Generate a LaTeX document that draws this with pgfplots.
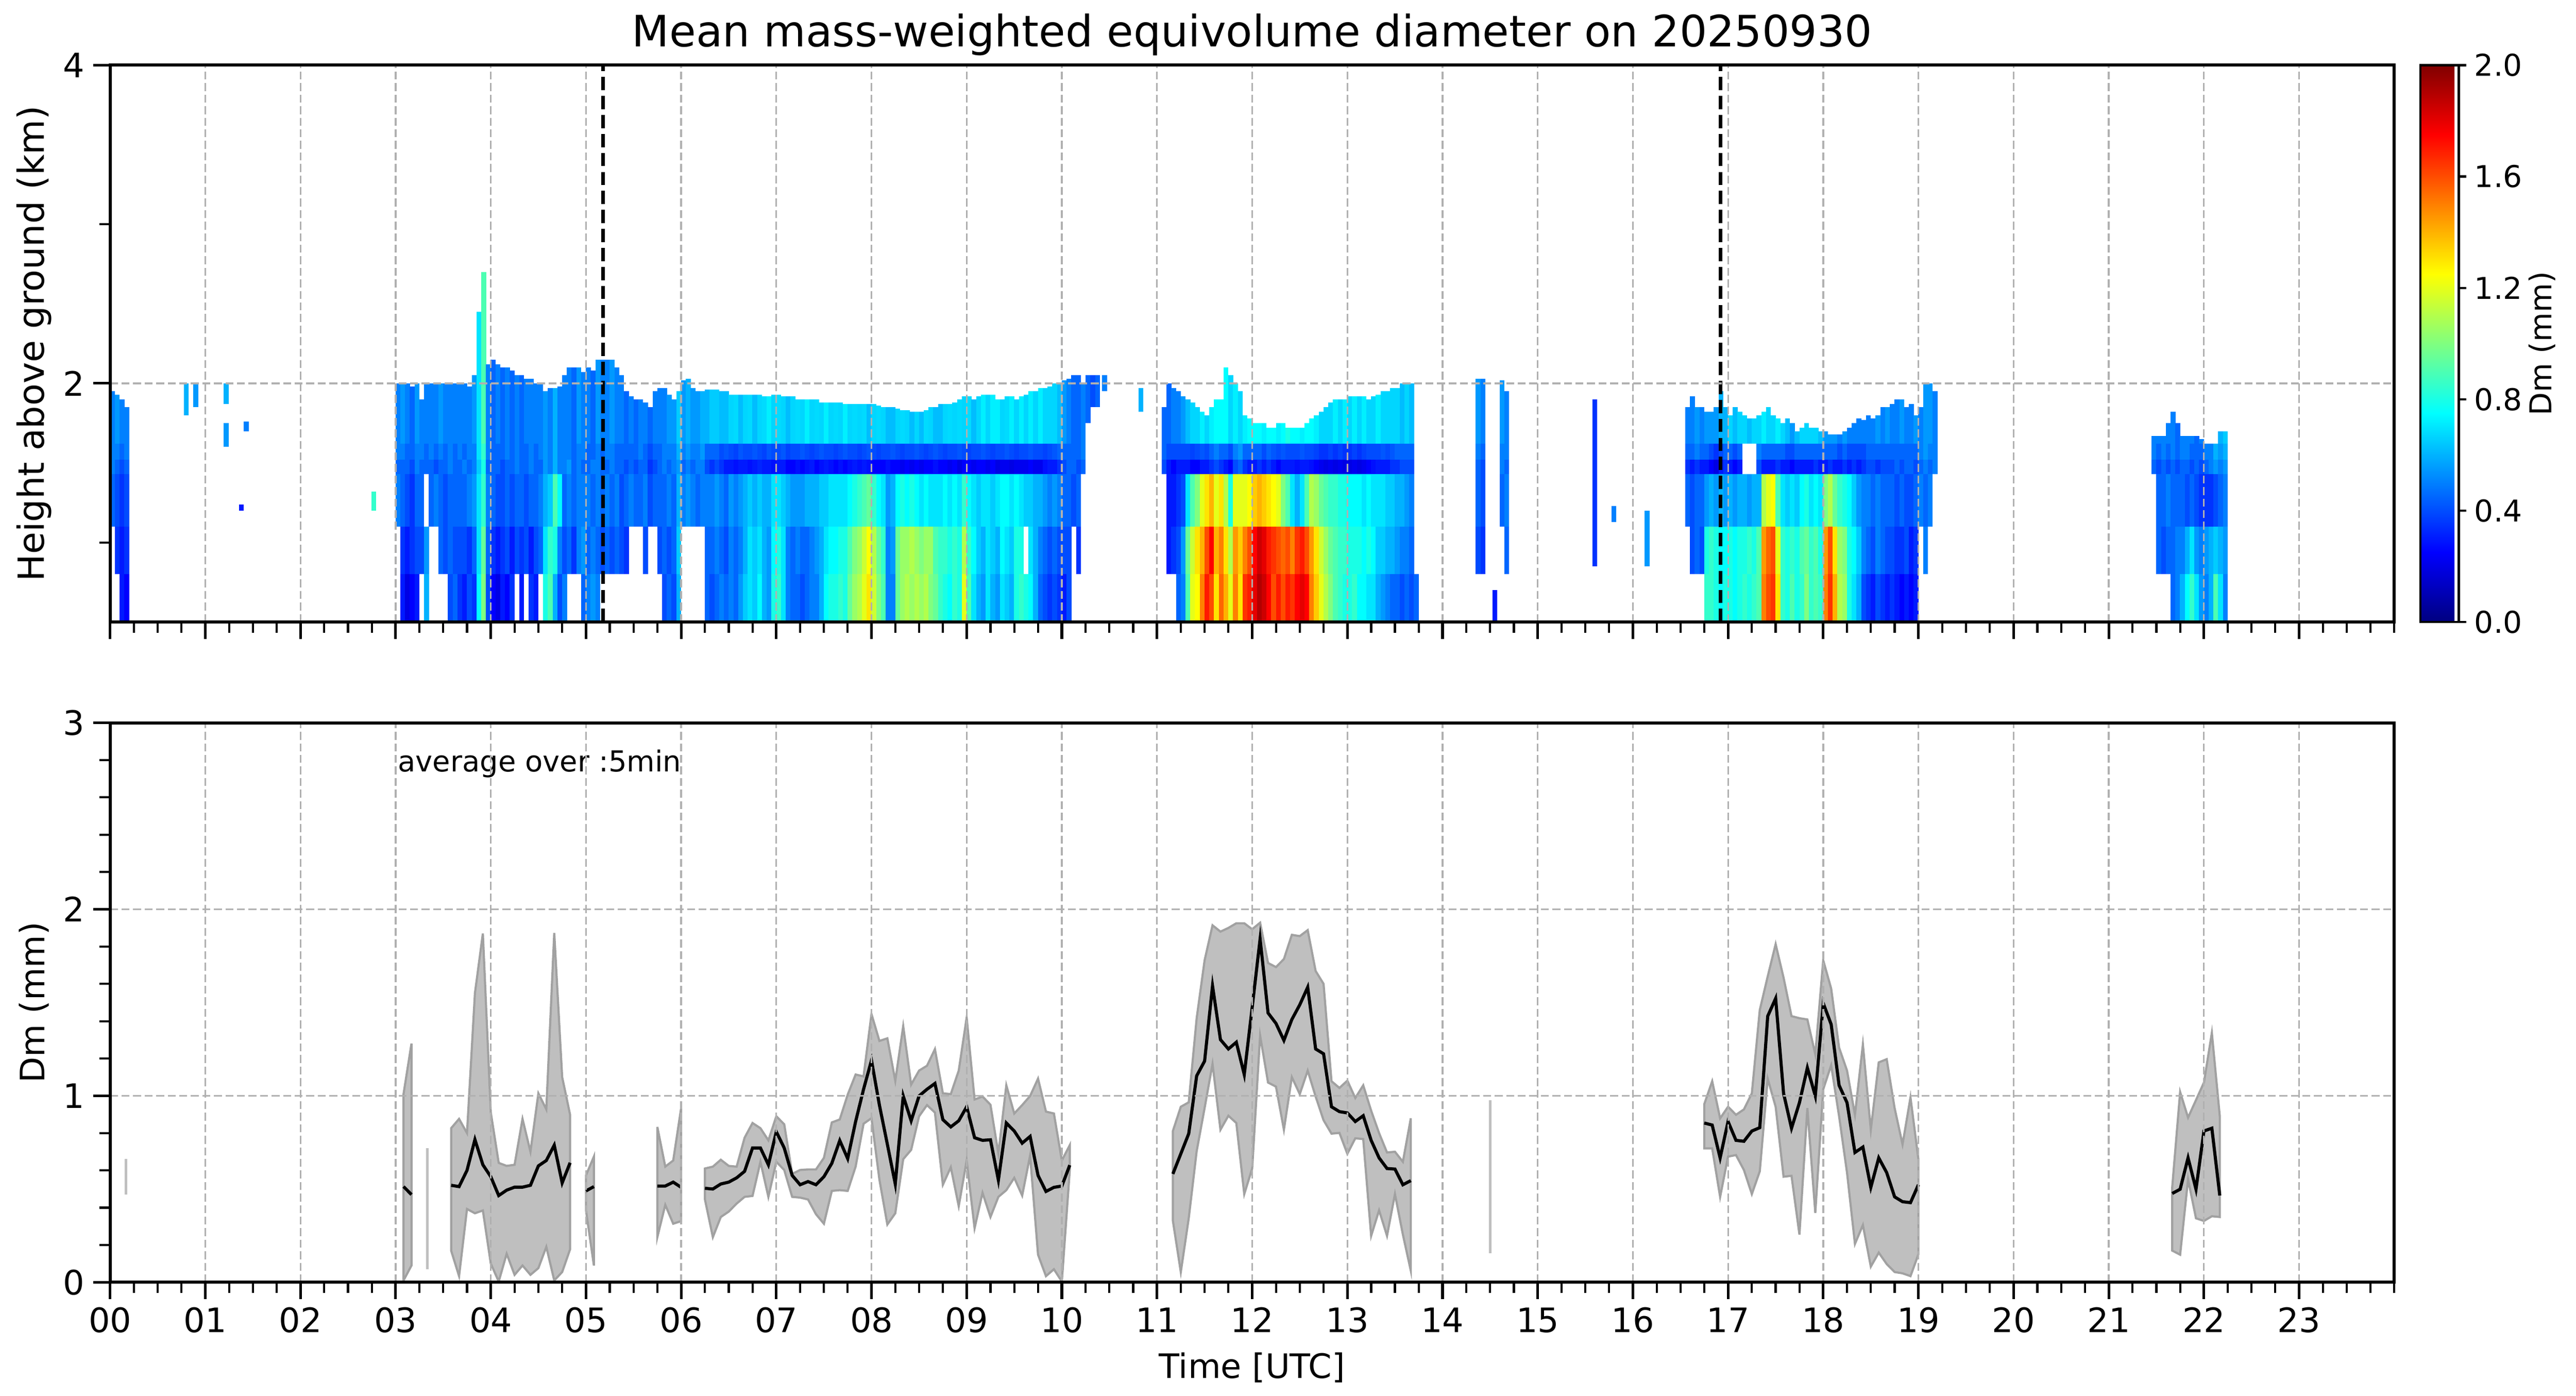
\documentclass[border=0pt]{standalone}
\usepackage{fontspec}
\setmainfont{DejaVu Sans}
\usepackage{pgfplots}
\pgfplotsset{compat=1.18}
\usepackage{pgfplotstable}
\pgfkeys{/pgf/number format/assume math mode=true}

\definecolor{gridgray}{rgb}{0.69,0.69,0.69}
\definecolor{bandfill}{rgb}{0.75,0.75,0.75}
\definecolor{bandedge}{rgb}{0.63,0.63,0.63}

% heatmap columns: x, colour of layers 0.5-0.8, 0.8-1.1, 1.1-1.43, 1.43-1.52, 1.52-1.62, 1.62-top; top height (-1 = empty)
\pgfplotstableread{
x c1 c2 c3 c4 cb c5 t
0.025 -1 -1 0.45 0.5 0.5 0.5 1.95
0.075 -1 0.35 0.4 0.45 0.5 0.55 1.93
0.125 0.3 0.3 0.35 0.4 0.45 0.5 1.9
0.175 0.25 0.35 0.4 0.45 0.5 0.5 1.85
3.025 -1 -1 0.5 0.45 0.5 0.5 2.0
3.075 0.3 0.35 0.45 0.45 0.5 0.55 2.0
3.125 0.2 0.3 0.4 0.45 0.45 0.5 2.0
3.175 0.25 0.35 0.35 0.4 0.45 0.45 1.98
3.225 0.3 0.4 0.45 0.5 0.5 0.55 2.0
3.275 -1 0.4 0.45 0.45 0.5 0.5 1.9
3.325 0.6 0.55 -1 0.45 0.45 0.5 2.0
3.375 -1 -1 0.45 0.45 0.5 0.5 2.0
3.425 -1 -1 0.5 0.4 0.45 0.5 2.0
3.475 -1 0.45 0.45 0.45 0.5 0.55 2.0
3.525 -1 0.4 0.4 0.45 0.45 0.5 2.0
3.575 0.4 0.45 0.45 0.5 0.5 0.5 2.0
3.625 0.45 0.4 0.45 0.45 0.45 0.5 2.0
3.675 0.35 0.4 0.45 0.45 0.5 0.5 2.0
3.725 0.3 0.4 0.45 0.5 0.45 0.5 2.0
3.775 0.4 0.35 0.5 0.45 0.5 0.5 1.98
3.825 0.35 0.45 0.55 0.5 0.5 0.55 2.05
3.875 0.75 0.7 0.7 0.65 0.7 0.7 2.45
3.925 1.0 0.95 0.85 0.8 0.85 0.9 2.7
3.975 0.4 0.45 0.5 0.45 0.5 0.5 2.12
4.025 0.25 0.35 0.45 0.45 0.45 0.45 2.15
4.075 0.2 0.3 0.4 0.45 0.45 0.5 2.12
4.125 0.3 0.35 0.4 0.4 0.45 0.45 2.1
4.175 0.25 0.4 0.45 0.45 0.5 0.5 2.1
4.225 0.35 0.3 0.4 0.45 0.45 0.45 2.08
4.275 -1 0.4 0.45 0.5 0.5 0.5 2.05
4.325 0.3 0.35 0.45 0.45 0.45 0.45 2.05
4.375 -1 0.4 0.4 0.45 0.45 0.5 2.03
4.425 0.35 0.3 0.45 0.5 0.5 0.5 2.03
4.475 0.3 0.4 0.45 0.45 0.45 0.5 2.0
4.525 -1 0.45 0.5 0.45 0.5 0.5 2.0
4.575 0.8 0.7 0.6 0.55 0.55 0.55 1.95
4.625 0.9 0.85 0.65 0.5 0.5 0.5 1.97
4.675 0.6 0.8 0.9 0.6 0.6 0.6 1.97
4.725 0.4 0.5 0.75 0.5 0.5 0.5 1.98
4.775 0.5 0.4 0.45 0.5 0.5 0.5 2.05
4.825 -1 0.45 0.5 0.55 0.5 0.5 2.1
4.875 -1 0.35 0.45 0.45 0.45 0.45 2.1
4.925 -1 0.5 0.5 0.5 0.5 0.55 2.1
4.975 0.45 0.55 0.5 0.45 0.5 0.5 2.07
5.025 0.5 0.45 0.5 0.45 0.45 0.5 2.1
5.075 0.55 0.5 0.45 0.5 0.45 0.45 2.08
5.125 0.5 0.45 0.5 0.5 0.5 0.55 2.15
5.175 -1 0.4 0.45 0.45 0.45 0.5 2.15
5.225 -1 0.45 0.5 0.45 0.5 0.5 2.15
5.275 -1 0.4 0.45 0.5 0.5 0.55 2.15
5.325 -1 0.45 0.5 0.45 0.45 0.5 2.1
5.375 -1 0.4 0.4 0.45 0.45 0.5 2.05
5.425 -1 0.35 0.45 0.4 0.45 0.45 1.95
5.475 -1 -1 0.5 0.45 0.45 0.5 1.92
5.525 -1 -1 0.45 0.4 0.45 0.45 1.9
5.575 -1 -1 0.45 0.45 0.5 0.5 1.9
5.625 -1 0.4 0.5 0.45 0.45 0.5 1.88
5.675 -1 -1 0.4 0.35 0.4 0.45 1.85
5.725 -1 -1 0.45 0.4 0.45 0.5 1.95
5.775 -1 0.4 0.45 0.45 0.45 0.5 1.97
5.825 0.4 0.45 0.45 0.5 0.5 0.5 1.97
5.875 0.45 0.4 0.5 0.45 0.5 0.55 1.93
5.925 0.4 0.45 0.45 0.5 0.5 0.55 1.9
5.975 0.6 0.65 0.6 0.55 0.6 0.65 1.95
6.025 -1 -1 0.5 0.45 0.5 0.55 2.02
6.075 -1 -1 0.55 0.5 0.55 0.6 2.03
6.125 -1 -1 0.5 0.45 0.5 0.55 1.97
6.175 -1 -1 0.45 0.5 0.5 0.55 1.95
6.225 -1 -1 0.5 0.5 0.55 0.6 1.95
6.275 0.45 0.45 0.5 0.4 0.45 0.6 1.96
6.325 0.4 0.45 0.5 0.35 0.45 0.65 1.96
6.375 0.45 0.5 0.55 0.4 0.45 0.65 1.96
6.425 0.5 0.45 0.5 0.35 0.4 0.62 1.95
6.475 0.45 0.4 0.45 0.3 0.42 0.62 1.95
6.525 0.5 0.5 0.55 0.3 0.4 0.67 1.93
6.575 0.45 0.45 0.5 0.28 0.38 0.68 1.93
6.625 0.55 0.5 0.55 0.3 0.42 0.62 1.93
6.675 0.65 0.6 0.6 0.3 0.4 0.67 1.93
6.725 0.7 0.7 0.65 0.28 0.4 0.68 1.93
6.775 0.65 0.65 0.6 0.3 0.42 0.62 1.93
6.825 0.75 0.7 0.65 0.32 0.4 0.67 1.93
6.875 0.6 0.6 0.6 0.3 0.38 0.68 1.92
6.925 0.55 0.55 0.6 0.3 0.42 0.72 1.92
6.975 0.8 0.75 0.7 0.28 0.4 0.67 1.93
7.025 0.85 0.8 0.7 0.3 0.4 0.68 1.93
7.075 0.7 0.7 0.65 0.3 0.42 0.67 1.92
7.125 0.5 0.5 0.6 0.25 0.38 0.62 1.92
7.175 0.45 0.45 0.55 0.25 0.4 0.67 1.92
7.225 0.45 0.5 0.55 0.28 0.4 0.68 1.9
7.275 0.4 0.45 0.55 0.25 0.42 0.67 1.9
7.325 0.45 0.45 0.6 0.28 0.4 0.72 1.9
7.375 0.5 0.5 0.6 0.3 0.38 0.67 1.9
7.425 0.5 0.55 0.6 0.25 0.4 0.68 1.9
7.475 0.6 0.6 0.65 0.28 0.42 0.67 1.88
7.525 0.75 0.7 0.65 0.3 0.4 0.72 1.88
7.575 0.8 0.75 0.7 0.28 0.4 0.67 1.88
7.625 0.8 0.75 0.7 0.25 0.38 0.68 1.88
7.675 0.85 0.8 0.7 0.28 0.4 0.67 1.88
7.725 0.8 0.8 0.7 0.25 0.42 0.72 1.87
7.775 0.95 0.9 0.75 0.28 0.4 0.67 1.87
7.825 1.05 1.0 0.8 0.3 0.4 0.68 1.87
7.875 1.1 1.05 0.85 0.28 0.38 0.67 1.87
7.925 1.2 1.15 0.9 0.3 0.4 0.68 1.87
7.975 1.3 1.25 0.95 0.28 0.42 0.62 1.87
8.025 1.15 1.1 0.85 0.25 0.4 0.67 1.87
8.075 1.0 0.95 0.75 0.25 0.38 0.68 1.86
8.125 0.9 0.85 0.7 0.25 0.4 0.67 1.85
8.175 0.5 0.5 0.55 0.28 0.4 0.62 1.85
8.225 0.5 0.55 0.6 0.25 0.42 0.62 1.85
8.275 0.95 0.95 0.75 0.25 0.4 0.67 1.84
8.325 1.05 1.05 0.8 0.22 0.38 0.68 1.83
8.375 1.1 1.05 0.75 0.25 0.4 0.67 1.83
8.425 1.05 1.1 0.8 0.22 0.4 0.62 1.82
8.475 1.1 1.05 0.75 0.25 0.42 0.67 1.82
8.525 1.05 1.0 0.7 0.22 0.4 0.62 1.82
8.575 1.1 1.05 0.75 0.25 0.38 0.68 1.83
8.625 1.0 1.05 0.7 0.25 0.4 0.67 1.85
8.675 0.95 0.9 0.7 0.28 0.42 0.62 1.85
8.725 0.85 0.85 0.7 0.25 0.4 0.62 1.87
8.775 0.8 0.85 0.75 0.25 0.38 0.67 1.87
8.825 0.75 0.8 0.7 0.22 0.4 0.68 1.87
8.875 0.85 0.85 0.75 0.25 0.4 0.67 1.88
8.925 0.8 0.8 0.7 0.2 0.42 0.68 1.9
8.975 1.2 1.1 0.85 0.25 0.4 0.67 1.92
9.025 0.9 0.85 0.75 0.25 0.38 0.68 1.92
9.075 0.7 0.75 0.7 0.22 0.4 0.62 1.9
9.125 0.6 0.65 0.65 0.25 0.4 0.67 1.92
9.175 0.55 0.6 0.7 0.25 0.42 0.72 1.93
9.225 0.7 0.7 0.7 0.22 0.4 0.67 1.93
9.275 0.6 0.65 0.65 0.25 0.38 0.72 1.93
9.325 0.55 0.6 0.7 0.2 0.4 0.72 1.9
9.375 0.7 0.75 0.75 0.22 0.4 0.67 1.9
9.425 0.65 0.7 0.75 0.22 0.42 0.68 1.92
9.475 0.6 0.65 0.7 0.2 0.4 0.72 1.92
9.525 0.8 0.8 0.75 0.22 0.38 0.67 1.9
9.575 0.85 0.8 0.7 0.22 0.4 0.72 1.92
9.625 0.8 -1 0.65 0.22 0.4 0.67 1.93
9.675 0.75 0.7 0.65 0.25 0.42 0.72 1.95
9.725 0.6 0.6 0.6 0.22 0.4 0.67 1.95
9.775 0.45 0.5 0.6 0.22 0.4 0.72 1.97
9.825 0.4 0.45 0.55 0.28 0.38 0.67 1.97
9.875 0.35 0.4 0.5 0.3 0.4 0.67 1.98
9.925 0.4 0.45 0.55 0.3 0.42 0.67 2.0
9.975 0.35 0.4 0.5 0.35 0.45 0.62 2.0
10.025 0.3 0.4 0.45 0.4 0.45 0.55 2.02
10.075 0.4 0.4 0.45 0.45 0.45 0.5 2.03
10.125 -1 -1 0.4 0.45 0.45 0.45 2.05
10.175 -1 0.35 0.45 0.4 0.45 0.45 2.05
10.225 -1 -1 -1 0.45 0.5 0.5 2.0
11.075 -1 -1 -1 0.4 0.45 0.45 1.85
11.125 -1 0.3 0.3 0.3 0.4 0.45 2.0
11.175 -1 0.35 0.3 0.25 0.4 0.5 1.97
11.225 0.45 0.4 0.35 0.3 0.4 0.5 1.95
11.275 0.5 0.55 0.4 0.3 0.4 0.55 1.92
11.325 0.9 0.95 0.7 0.3 0.4 0.62 1.9
11.375 1.2 1.15 0.9 0.25 0.38 0.67 1.88
11.425 1.25 1.3 1.0 0.25 0.4 0.67 1.85
11.475 1.5 1.4 1.2 0.3 0.42 0.72 1.82
11.525 1.7 1.6 1.3 0.3 0.4 0.67 1.8
11.575 1.6 1.75 1.4 0.35 0.45 0.72 1.85
11.625 1.3 1.4 1.2 0.4 0.5 0.75 1.9
11.675 1.55 1.5 1.3 0.35 0.45 0.75 1.9
11.725 1.4 1.3 1.1 0.3 0.45 0.75 2.1
11.775 1.2 1.1 0.8 0.25 0.4 0.67 2.05
11.825 1.5 1.45 1.2 0.4 0.5 0.72 2.0
11.875 1.3 1.35 1.2 0.45 0.55 0.67 1.95
11.925 1.65 1.5 1.2 0.35 0.45 0.72 1.8
11.975 1.7 1.6 1.25 0.3 0.45 0.75 1.78
12.025 1.8 1.75 1.35 0.3 0.45 0.75 1.75
12.075 1.9 1.85 1.4 0.35 0.45 0.75 1.75
12.125 1.85 1.8 1.35 0.3 0.4 0.72 1.75
12.175 1.75 1.7 1.3 0.35 0.45 0.75 1.72
12.225 1.6 1.65 1.25 0.3 0.42 0.75 1.72
12.275 1.7 1.6 1.2 0.25 0.4 0.72 1.75
12.325 1.6 1.55 1.0 0.3 0.42 0.75 1.75
12.375 1.7 1.6 0.9 0.3 0.4 0.8 1.72
12.425 1.65 1.5 0.7 0.3 0.4 0.75 1.72
12.475 1.75 1.65 0.6 0.28 0.4 0.75 1.72
12.525 1.8 1.7 0.7 0.3 0.42 0.72 1.72
12.575 1.75 1.6 0.9 0.3 0.4 0.75 1.75
12.625 1.5 1.45 1.1 0.28 0.4 0.75 1.78
12.675 1.35 1.3 1.05 0.25 0.38 0.72 1.8
12.725 1.2 1.15 0.95 0.22 0.35 0.67 1.82
12.775 1.1 1.05 0.9 0.2 0.35 0.67 1.85
12.825 1.0 0.95 0.85 0.22 0.38 0.67 1.88
12.875 0.9 0.9 0.85 0.2 0.35 0.72 1.9
12.925 0.85 0.85 0.8 0.22 0.38 0.67 1.9
12.975 0.8 0.85 0.8 0.2 0.35 0.72 1.9
13.025 0.8 0.8 0.75 0.2 0.35 0.67 1.92
13.075 0.85 0.8 0.75 0.22 0.38 0.72 1.92
13.125 0.75 0.8 0.75 0.2 0.35 0.67 1.92
13.175 0.75 0.75 0.7 0.22 0.38 0.72 1.92
13.225 0.7 0.8 0.75 0.25 0.4 0.67 1.9
13.275 0.7 0.75 0.7 0.28 0.4 0.67 1.92
13.325 0.6 0.65 0.7 0.3 0.4 0.72 1.93
13.375 0.55 0.65 0.7 0.3 0.42 0.67 1.95
13.425 0.5 0.6 0.65 0.3 0.4 0.67 1.95
13.475 0.45 0.6 0.65 0.35 0.42 0.67 1.97
13.525 0.45 0.55 0.6 0.35 0.45 0.67 1.97
13.575 0.4 0.5 0.6 0.4 0.45 0.62 2.0
13.625 0.45 0.5 0.55 0.4 0.45 0.67 2.0
13.675 0.4 0.45 0.5 0.4 0.45 0.62 2.0
14.375 -1 0.4 0.45 0.45 0.5 0.55 2.03
14.425 -1 0.35 0.4 0.4 0.45 0.5 2.03
14.625 -1 -1 0.45 0.5 0.5 0.55 2.02
14.675 -1 0.45 0.5 0.45 0.5 0.5 1.95
16.575 -1 -1 0.45 0.35 0.45 0.5 1.85
16.625 -1 0.4 0.4 0.3 0.45 0.5 1.92
16.675 -1 0.45 0.45 0.35 0.5 0.55 1.85
16.725 -1 0.4 0.45 0.3 0.45 0.5 1.85
16.775 0.85 0.8 0.55 0.3 0.45 0.55 1.82
16.825 0.85 0.85 0.6 0.25 0.4 0.55 1.82
16.875 0.8 0.8 0.55 0.2 0.35 0.55 1.85
16.925 0.75 0.75 0.6 0.3 0.4 0.6 1.95
16.975 0.8 0.75 0.55 0.35 0.45 0.6 1.85
17.025 0.8 0.8 0.6 0.3 0.45 0.67 1.8
17.075 0.75 0.75 0.55 0.25 0.4 0.62 1.85
17.125 0.8 0.8 0.6 0.3 0.45 0.67 1.82
17.175 0.85 0.8 0.6 -1 -1 0.67 1.8
17.225 0.8 0.85 0.55 -1 -1 0.62 1.78
17.275 0.85 0.8 0.6 -1 -1 0.67 1.78
17.325 0.9 0.9 0.6 0.4 0.5 0.67 1.8
17.375 1.5 1.45 1.1 0.3 0.45 0.72 1.82
17.425 1.6 1.55 1.2 0.3 0.45 0.67 1.85
17.475 1.65 1.6 1.25 0.3 0.45 0.67 1.8
17.525 1.3 1.2 0.9 0.35 0.45 0.72 1.78
17.575 0.85 0.85 0.7 0.3 0.45 0.67 1.75
17.625 0.8 0.8 0.65 0.3 0.4 0.62 1.78
17.675 0.9 0.85 0.7 0.25 0.4 0.55 1.75
17.725 0.8 0.8 0.65 0.3 0.45 0.62 1.7
17.775 0.85 0.9 0.75 0.3 0.45 0.67 1.72
17.825 1.0 0.95 0.8 0.3 0.45 0.67 1.75
17.875 0.85 0.85 0.7 0.3 0.45 0.67 1.72
17.925 0.9 0.9 0.75 0.35 0.45 0.67 1.72
17.975 0.85 0.8 0.7 0.3 0.45 0.62 1.7
18.025 1.5 1.45 1.0 0.3 0.45 0.55 1.7
18.075 1.65 1.6 1.1 0.35 0.45 0.55 1.68
18.125 1.4 1.3 0.95 0.3 0.45 0.55 1.68
18.175 1.1 1.05 0.85 0.3 0.4 0.5 1.68
18.225 1.05 1.0 0.8 0.35 0.45 0.55 1.7
18.275 0.8 0.8 0.75 0.3 0.4 0.5 1.72
18.325 0.7 0.75 0.65 0.35 0.4 0.5 1.75
18.375 0.6 0.65 0.55 0.3 0.4 0.5 1.78
18.425 0.4 0.5 0.5 0.35 0.4 0.5 1.77
18.475 0.35 0.45 0.5 0.4 0.45 0.5 1.8
18.525 0.3 0.4 0.45 0.4 0.45 0.5 1.78
18.575 0.4 0.5 0.5 0.35 0.45 0.55 1.8
18.625 0.35 0.45 0.45 0.4 0.45 0.5 1.85
18.675 0.3 0.4 0.45 0.4 0.45 0.55 1.85
18.725 0.35 0.4 0.45 0.4 0.45 0.5 1.87
18.775 0.3 0.35 0.4 0.45 0.45 0.5 1.9
18.825 0.25 0.35 0.45 0.4 0.45 0.55 1.9
18.875 0.3 0.4 0.4 0.45 0.45 0.5 1.85
18.925 0.25 0.3 0.4 0.45 0.45 0.5 1.87
18.975 0.3 0.35 0.45 0.4 0.45 0.55 1.8
19.025 -1 -1 0.5 0.45 0.5 0.5 1.85
19.075 -1 0.5 0.45 0.5 0.55 0.55 2.0
19.125 -1 -1 0.5 0.45 0.5 0.55 2.0
19.175 -1 -1 -1 0.5 0.5 0.5 1.95
21.475 -1 -1 -1 0.45 0.5 0.5 1.67
21.525 -1 0.45 0.45 0.4 0.45 0.5 1.67
21.575 -1 0.4 0.45 0.45 0.5 0.5 1.67
21.625 -1 0.45 0.5 0.4 0.45 0.5 1.75
21.675 0.45 0.45 0.45 0.45 0.5 0.5 1.82
21.725 0.5 0.5 0.45 0.4 0.45 0.45 1.75
21.775 0.6 0.5 0.45 0.45 0.5 0.5 1.67
21.825 0.75 0.6 0.4 0.45 0.5 0.5 1.67
21.875 0.85 0.7 0.45 0.4 0.45 0.5 1.67
21.925 0.7 0.55 0.4 0.45 0.45 0.45 1.67
21.975 0.55 0.5 0.35 0.4 0.45 0.5 1.65
22.025 0.5 0.55 0.35 0.45 0.5 -1 1.6
22.075 0.6 0.6 0.35 0.5 0.5 -1 1.6
22.125 0.9 0.65 0.4 0.55 0.6 -1 1.62
22.175 0.7 0.6 0.45 0.5 0.55 0.6 1.7
22.225 0.5 0.55 0.5 0.55 0.6 0.65 1.7
}\hm

% isolated small echoes: x, bottom, length, colour
\pgfplotstableread{
x y v c
0.8 1.8 0.2 0.6
0.9 1.85 0.15 0.55
1.22 1.87 0.13 0.6
1.22 1.6 0.15 0.55
1.43 1.7 0.06 0.5
1.38 1.2 0.04 0.3
2.77 1.2 0.12 0.85
10.275 1.75 0.3 0.45
10.325 1.85 0.2 0.4
10.375 1.85 0.2 0.45
10.45 1.95 0.1 0.5
10.83 1.82 0.15 0.6
13.725 0.5 0.3 0.45
14.55 0.5 0.2 0.3
15.6 0.85 1.05 0.35
15.8 1.13 0.1 0.5
16.15 0.85 0.35 0.55
}\hmx

% 5-min mean Dm
\pgfplotstableread{
x m
3.0833 0.513
3.1667 0.47
}\sA
\pgfplotstableread{
x m
3.5833 0.520
3.6667 0.513
3.7500 0.600
3.8333 0.765
3.9167 0.630
4.0000 0.566
4.0833 0.465
4.1667 0.494
4.2500 0.510
4.3333 0.510
4.4167 0.520
4.5000 0.624
4.5833 0.653
4.6667 0.735
4.7500 0.533
4.8333 0.641
}\sB
\pgfplotstableread{
x m
5.0000 0.49
5.0833 0.513
}\sC
\pgfplotstableread{
x m
5.75 0.516
5.8333 0.516
5.9167 0.537
6.0 0.509
}\sD
\pgfplotstableread{
x m
6.25 0.504
6.3333 0.500
6.4167 0.527
6.5 0.537
6.5833 0.56
6.6667 0.595
6.75 0.72
6.8333 0.72
6.9167 0.63
7.0 0.807
7.0833 0.72
7.1667 0.573
7.25 0.523
7.3333 0.54
7.4167 0.523
7.5 0.566
7.5833 0.638
7.6667 0.76
7.75 0.663
7.8333 0.862
7.9167 1.035
8.0 1.19
8.0833 0.95
8.1667 0.74
8.25 0.527
8.3333 0.999
8.4167 0.866
8.5 0.999
8.5833 1.035
8.6667 1.066
8.75 0.872
8.8333 0.833
8.9167 0.866
9.0 0.941
9.0833 0.775
9.1667 0.761
9.25 0.764
9.3333 0.548
9.4167 0.854
9.5 0.811
9.5833 0.746
9.6667 0.782
9.75 0.573
9.8333 0.487
9.9167 0.509
10.0 0.516
10.0833 0.628
}\sE
\pgfplotstableread{
x m
11.1667 0.581
11.25 0.689
11.3333 0.797
11.4167 1.107
11.5 1.186
11.5833 1.589
11.6667 1.301
11.75 1.251
11.8333 1.287
11.9167 1.114
12.0 1.474
12.0833 1.841
12.1667 1.444
12.25 1.388
12.3333 1.297
12.4167 1.409
12.5 1.488
12.5833 1.582
12.6667 1.251
12.75 1.225
12.8333 0.941
12.9167 0.915
13.0 0.908
13.0833 0.862
13.1667 0.893
13.25 0.761
13.3333 0.667
13.4167 0.61
13.5 0.607
13.5833 0.523
13.6667 0.545
}\sF
\pgfplotstableread{
x m
16.75 0.854
16.8333 0.843
16.9167 0.667
17.0 0.862
17.0833 0.761
17.1667 0.756
17.25 0.811
17.3333 0.829
17.4167 1.427
17.5 1.522
17.5833 1.013
17.6667 0.826
17.75 0.963
17.8333 1.15
17.9167 0.999
18.0 1.496
18.0833 1.383
18.1667 1.056
18.25 0.963
18.3333 0.696
18.4167 0.725
18.5 0.509
18.5833 0.667
18.6667 0.588
18.75 0.458
18.8333 0.432
18.9167 0.427
19.0 0.523
}\sG
\pgfplotstableread{
x m
21.6667 0.476
21.75 0.499
21.8333 0.667
21.9167 0.499
22.0 0.811
22.0833 0.826
22.1667 0.465
}\sH

\pgfplotsset{
  panel/.style={
    scale only axis, width=950.2pt,
    xmin=0, xmax=24,
    xtick={0,1,...,23}, minor xtick={0,0.25,...,24},
    xtick pos=bottom, ytick pos=left, tick align=outside,
    major tick length=7pt, minor tick length=4.5pt,
    major tick style={line width=1.1pt, black},
    minor tick style={line width=0.9pt, black},
    axis line style={line width=1.3pt},
    axis on top,
    xmajorgrids, ymajorgrids,
    major grid style={gridgray, line width=0.7pt, dash pattern=on 3.3pt off 1.5pt},
    tick label style={font=\fontsize{14}{16}\selectfont},
    every axis y label/.style={at={(axis description cs:-0.03326,0.5)}, rotate=90, anchor=center},
  },
  hmcol/.style={-, line width=2.05pt, line cap=butt},
  band/.style={fill=bandfill, draw=bandedge, line width=0.9pt},
  meanline/.style={black, line width=1.3pt},
}

\begin{document}
\begin{tikzpicture}
\useasboundingbox (0,0) rectangle (1071.6pt,580.5pt);

\begin{axis}[panel,
  at={(45.8pt,321.8pt)}, anchor=south west, height=231.6pt,
  ymin=0.5, ymax=4, ytick={2,4}, minor ytick={1,3},
  xticklabels={},
  ylabel={Height above ground (km)},
  ylabel style={font=\fontsize{15}{17}\selectfont},
  title={Mean mass-weighted equivolume diameter on 20250930},
  title style={at={(axis description cs:0.5,1)}, anchor=base, yshift=1.8pt, font=\fontsize{18}{21}\selectfont},
  colormap/jet, point meta min=0, point meta max=2,
  colorbar,
  colorbar style={
    at={(parent axis.north east)}, anchor=north west, xshift=2.3pt,
    scale only axis, width=16pt, height=231.6pt,
    ytick={0,0.4,0.8,1.2,1.6,2}, ytick pos=right, yticklabel pos=right,
    tick align=outside, major tick length=3pt,
    major tick style={line width=0.9pt, black},
    axis line style={line width=1pt},
    yticklabel style={font=\fontsize{12.5}{14}\selectfont, /pgf/number format/.cd, fixed, fixed zerofill, precision=1},
    ylabel={Dm (mm)},
    every axis y label/.style={at={(axis description cs:3.17,0.5)}, rotate=90, anchor=center, font=\fontsize{12.5}{14}\selectfont},
  },
]
\addplot[hmcol, restrict expr to domain={\thisrow{c1}}{0:3}, point meta={\thisrow{c1}},
  quiver={u=0, v=0.3, colored=mapped color, every arrow/.append style={line width=2.05pt, line cap=butt}}]
  table[x=x, y expr=0.5] {\hm};
\addplot[hmcol, restrict expr to domain={\thisrow{c2}}{0:3}, point meta={\thisrow{c2}},
  quiver={u=0, v=0.3, colored=mapped color, every arrow/.append style={line width=2.05pt, line cap=butt}}]
  table[x=x, y expr=0.8] {\hm};
\addplot[hmcol, restrict expr to domain={\thisrow{c3}}{0:3}, point meta={\thisrow{c3}},
  quiver={u=0, v=0.33, colored=mapped color, every arrow/.append style={line width=2.05pt, line cap=butt}}]
  table[x=x, y expr=1.1] {\hm};
\addplot[hmcol, restrict expr to domain={\thisrow{c4}}{0:3}, point meta={\thisrow{c4}},
  quiver={u=0, v=0.09, colored=mapped color, every arrow/.append style={line width=2.05pt, line cap=butt}}]
  table[x=x, y expr=1.43] {\hm};
\addplot[hmcol, restrict expr to domain={\thisrow{cb}}{0:3}, point meta={\thisrow{cb}},
  quiver={u=0, v=0.1, colored=mapped color, every arrow/.append style={line width=2.05pt, line cap=butt}}]
  table[x=x, y expr=1.52] {\hm};
\addplot[hmcol, restrict expr to domain={\thisrow{c5}}{0:3}, point meta={\thisrow{c5}},
  quiver={u=0, v={\thisrow{t}-1.62}, colored=mapped color, every arrow/.append style={line width=2.05pt, line cap=butt}}]
  table[x=x, y expr=1.62] {\hm};
\addplot[hmcol, point meta={\thisrow{c}},
  quiver={u=0, v={\thisrow{v}}, colored=mapped color, every arrow/.append style={line width=2.05pt, line cap=butt}}]
  table[x=x, y=y] {\hmx};
\addplot[black, line width=1.4pt, dash pattern=on 5.5pt off 2.4pt] coordinates {(5.18,0.5) (5.18,4)};
\addplot[black, line width=1.4pt, dash pattern=on 5.5pt off 2.4pt] coordinates {(16.92,0.5) (16.92,4)};
\end{axis}

\begin{axis}[panel,
  at={(45.8pt,47.2pt)}, anchor=south west, height=232.7pt,
  ymin=0, ymax=3, ytick={0,1,2,3}, minor y tick num=4,
  xticklabels={00,01,02,03,04,05,06,07,08,09,10,11,12,13,14,15,16,17,18,19,20,21,22,23},
  xlabel={Time [UTC]},
  every axis x label/.style={at={(axis description cs:0.5,-0.1526)}, anchor=center},
  xlabel style={font=\fontsize{14}{16}\selectfont},
  ylabel={Dm (mm)},
  ylabel style={font=\fontsize{14}{16}\selectfont},
]
% spread (min-max) of Dm within each 5-min window
\addplot[color=bandfill, line width=1pt] coordinates {(0.1667,0.47) (0.1667,0.66)};
\addplot[color=bandfill, line width=1pt] coordinates {(3.3333,0.07) (3.3333,0.72)};
\addplot[color=bandfill, line width=1pt] coordinates {(14.5,0.156) (14.5,0.977)};
\addplot[band] coordinates {(3.0833,1.01) (3.1667,1.28) (3.1667,0.09) (3.0833,0.01)} -- cycle;
\addplot[band] coordinates {(3.5833,0.826) (3.6667,0.876) (3.75,0.80) (3.8333,1.55) (3.9167,1.87) (4.0,0.91) (4.0833,0.64) (4.1667,0.624) (4.25,0.63) (4.3333,0.876) (4.4167,0.70) (4.5,1.013) (4.5833,0.927) (4.6667,1.873) (4.75,1.10) (4.8333,0.898)
 (4.8333,0.177) (4.75,0.055) (4.6667,0.01) (4.5833,0.19) (4.5,0.076) (4.4167,0.04) (4.3333,0.09) (4.25,0.04) (4.1667,0.153) (4.0833,0.004) (4.0,0.10) (3.9167,0.385) (3.8333,0.37) (3.75,0.393) (3.6667,0.033) (3.5833,0.17)} -- cycle;
\addplot[band] coordinates {(5.0,0.573) (5.0833,0.674) (5.0833,0.09) (5.0,0.386)} -- cycle;
\addplot[band] coordinates {(5.75,0.833) (5.8333,0.62) (5.9167,0.653) (6.0,0.934) (6.0,0.328) (5.9167,0.314) (5.8333,0.415) (5.75,0.242)} -- cycle;
\addplot[band] coordinates {(6.25,0.61) (6.3333,0.62) (6.4167,0.657) (6.5,0.624) (6.5833,0.62) (6.6667,0.775) (6.75,0.854) (6.8333,0.826) (6.9167,0.761) (7.0,0.89) (7.0833,0.847) (7.1667,0.581) (7.25,0.602) (7.3333,0.605) (7.4167,0.605) (7.5,0.667) (7.5833,0.857) (7.6667,0.873) (7.75,1.006) (7.8333,1.114) (7.9167,1.104) (8.0,1.438) (8.0833,1.294) (8.1667,1.308) (8.25,1.08) (8.3333,1.373) (8.4167,1.06) (8.5,1.135) (8.5833,1.161) (8.6667,1.25) (8.75,1.013) (8.8333,1.009) (8.9167,1.135) (9.0,1.419) (9.0833,0.98) (9.1667,0.996) (9.25,0.952) (9.3333,0.69) (9.4167,1.056) (9.5,0.905) (9.5833,0.95) (9.6667,0.999) (9.75,1.092) (9.8333,0.915) (9.9167,0.905) (10.0,0.653) (10.0833,0.735)
 (10.0833,0.60) (10.0,0.004) (9.9167,0.07) (9.8333,0.033) (9.75,0.148) (9.6667,0.68) (9.5833,0.465) (9.5,0.56) (9.4167,0.494) (9.3333,0.458) (9.25,0.35) (9.1667,0.48) (9.0833,0.29) (9.0,0.653) (8.9167,0.408) (8.8333,0.617) (8.75,0.523) (8.6667,0.91) (8.5833,0.95) (8.5,0.89) (8.4167,0.71) (8.3333,0.66) (8.25,0.37) (8.1667,0.31) (8.0833,0.55) (8.0,0.88) (7.9167,0.85) (7.8333,0.62) (7.75,0.49) (7.6667,0.494) (7.5833,0.49) (7.5,0.314) (7.4167,0.365) (7.3333,0.444) (7.25,0.454) (7.1667,0.458) (7.0833,0.602) (7.0,0.646) (6.9167,0.458) (6.8333,0.646) (6.75,0.463) (6.6667,0.458) (6.5833,0.422) (6.5,0.379) (6.4167,0.35) (6.3333,0.242) (6.25,0.444)} -- cycle;
\addplot[band] coordinates {(11.1667,0.811) (11.25,0.941) (11.3333,0.965) (11.4167,1.416) (11.5,1.726) (11.5833,1.914) (11.6667,1.88) (11.75,1.90) (11.8333,1.925) (11.9167,1.925) (12.0,1.893) (12.0833,1.928) (12.1667,1.712) (12.25,1.69) (12.3333,1.733) (12.4167,1.863) (12.5,1.856) (12.5833,1.888) (12.6667,1.669) (12.75,1.60) (12.8333,1.078) (12.9167,1.042) (13.0,1.081) (13.0833,0.988) (13.1667,1.056) (13.25,0.92) (13.3333,0.80) (13.4167,0.696) (13.5,0.70) (13.5833,0.646) (13.6667,0.879)
 (13.6667,0.062) (13.5833,0.256) (13.5,0.473) (13.4167,0.249) (13.3333,0.386) (13.25,0.249) (13.1667,0.768) (13.0833,0.772) (13.0,0.689) (12.9167,0.801) (12.8333,0.797) (12.75,0.869) (12.6667,0.996) (12.5833,1.135) (12.5,1.009) (12.4167,1.10) (12.3333,0.818) (12.25,1.049) (12.1667,1.071) (12.0833,1.323) (12.0,0.61) (11.9167,0.473) (11.8333,0.854) (11.75,0.893) (11.6667,0.818) (11.5833,1.171) (11.5,0.934) (11.4167,0.703) (11.3333,0.343) (11.25,0.055) (11.1667,0.33)} -- cycle;
\addplot[band] coordinates {(16.75,0.955) (16.8333,1.078) (16.9167,0.879) (17.0,0.941) (17.0833,0.898) (17.1667,0.927) (17.25,1.013) (17.3333,1.46) (17.4167,1.64) (17.5,1.813) (17.5833,1.633) (17.6667,1.427) (17.75,1.416) (17.8333,1.409) (17.9167,1.222) (18.0,1.726) (18.0833,1.575) (18.1667,1.258) (18.25,1.135) (18.3333,0.898) (18.4167,1.275) (18.5,0.818) (18.5833,1.179) (18.6667,1.196) (18.75,0.934) (18.8333,0.739) (18.9167,0.991) (19.0,0.66)
 (19.0,0.15) (18.9167,0.033) (18.8333,0.048) (18.75,0.055) (18.6667,0.098) (18.5833,0.159) (18.5,0.084) (18.4167,0.307) (18.3333,0.206) (18.25,0.588) (18.1667,0.89) (18.0833,1.164) (18.0,1.035) (17.9167,0.372) (17.8333,0.934) (17.75,0.256) (17.6667,0.571) (17.5833,0.566) (17.5,0.941) (17.4167,1.092) (17.3333,0.595) (17.25,0.473) (17.1667,0.602) (17.0833,0.682) (17.0,0.674) (16.9167,0.458) (16.8333,0.718) (16.75,0.718)} -- cycle;
\addplot[band] coordinates {(21.6667,0.509) (21.75,1.02) (21.8333,0.883) (21.9167,0.977) (22.0,1.071) (22.0833,1.337) (22.1667,0.89)
 (22.1667,0.35) (22.0833,0.354) (22.0,0.329) (21.9167,0.343) (21.8333,0.552) (21.75,0.148) (21.6667,0.17)} -- cycle;
\addplot[meanline] table[x=x,y=m]{\sA};
\addplot[meanline] table[x=x,y=m]{\sB};
\addplot[meanline] table[x=x,y=m]{\sC};
\addplot[meanline] table[x=x,y=m]{\sD};
\addplot[meanline] table[x=x,y=m]{\sE};
\addplot[meanline] table[x=x,y=m]{\sF};
\addplot[meanline] table[x=x,y=m]{\sG};
\addplot[meanline] table[x=x,y=m]{\sH};
\node[anchor=west, inner sep=0pt, font=\fontsize{12}{14}\selectfont] at (axis cs:3.02,2.78) {average over :5min};
\end{axis}
\end{tikzpicture}
\end{document}
